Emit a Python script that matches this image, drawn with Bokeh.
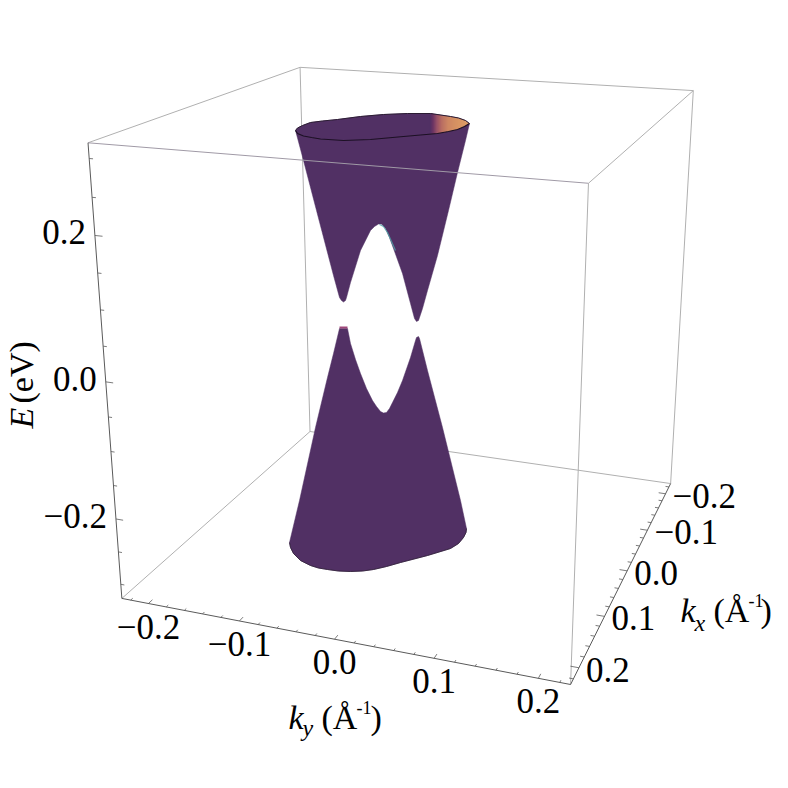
import numpy as np
from bokeh.plotting import figure
from bokeh.models import Range1d
from bokeh.core.properties import value
from bokeh.embed import file_html
from bokeh.resources import INLINE

# --- axes: values in the units of the chart
kx_limits = [-0.23, 0.23]
ky_limits = [-0.23, 0.23]
e_limits = [-0.322, 0.32]
kx_major = [-0.2, -0.1, 0.0, 0.1, 0.2]
ky_major = [-0.2, -0.1, 0.0, 0.1, 0.2]
e_major = [-0.2, 0.0, 0.2]
kx_minor = [-0.22, -0.18, -0.16, -0.14, -0.12, -0.08, -0.06, -0.04, -0.02,
            0.02, 0.04, 0.06, 0.08, 0.12, 0.14, 0.16, 0.18, 0.22]
ky_minor = list(kx_minor)
e_minor = [-0.3, -0.25, -0.15, -0.1, -0.05, 0.05, 0.1, 0.15, 0.25, 0.3]
kx_labels = ["\u22120.2", "\u22120.1", "0.0", "0.1", "0.2"]
ky_labels = ["\u22120.2", "\u22120.1", "0.0", "0.1", "0.2"]
e_labels = ["\u22120.2", "0.0", "0.2"]

# --- the box's corners as they appear in the picture: (kx sign, ky sign, E sign, px, py)
box_corner_signs = [(1, -1, 1), (-1, -1, 1), (-1, 1, 1), (1, 1, 1),
                    (1, -1, -1), (-1, -1, -1), (-1, 1, -1), (1, 1, -1)]
box_corner_px = [88, 299, 693, 588, 121, 310, 670, 570]
box_corner_py = [142, 67, 90, 183, 598, 431, 483, 684]

# --- silhouette of the surface
rim_back_x = [295, 297, 302, 310, 322, 337, 360, 383, 407, 430, 450, 458, 465, 469]
rim_back_y = [130, 127.5, 125, 122, 120.5, 119, 116, 114, 113, 113, 116, 117.5, 120, 123]
rim_front_x = [295, 297, 303, 311, 320, 343, 370, 403, 437, 448, 457, 464, 469]
rim_front_y = [130, 133, 135.5, 137, 138.5, 140, 139, 136, 133, 131, 129, 126, 123]
upper_side_x = [465, 457, 448, 437, 427, 422, 418, 416, 414,
                410, 402, 393, 389, 385, 381, 378, 374, 370, 360, 350, 346, 345, 343, 341, 339, 333, 316, 303]
upper_side_y = [140, 172, 210, 255, 290, 308, 320, 321, 318,
                303, 273, 248, 237, 228, 223.5, 223.5, 226, 230, 250, 282, 297, 300, 301.5, 300, 297, 275, 210, 160]
upper_x = rim_back_x + upper_side_x
upper_y = rim_back_y + upper_side_y
bottom_rim_x = [289, 290, 293, 300, 310, 318, 327, 338, 350, 362, 373, 386, 400, 427, 450, 458, 463, 465.5, 466]
bottom_rim_y = [542, 547, 553, 560, 565, 567.5, 569, 570.5, 571, 570.5, 569, 566, 562, 555, 548, 543, 537, 532, 528]
lower_x = [339, 347, 350, 355, 360, 366, 372, 376, 380, 383, 386, 389, 392, 397, 402, 410, 415, 416, 418, 419, 427, 442, 460] \
    + bottom_rim_x[::-1] + [299, 315, 327, 333]
lower_y = [328, 328, 343, 359, 373, 388, 400, 406, 411, 412.5, 412, 408, 402, 392, 380, 357, 340, 337, 336, 338, 370, 427, 500] \
    + bottom_rim_y[::-1] + [500, 427, 377, 353]
teal_x = [379, 383, 387, 391, 395]
teal_y = [224, 226, 232, 241, 250]
dot_x = [339, 347]
dot_y = [327, 327]

# --- colours over the rim's inside, from left to right
rim_stop_x = [429, 432, 436, 441, 447, 458, 469]
rim_stop_r = [81, 112, 165, 205, 228, 242, 246]
rim_stop_g = [48, 52, 88, 122, 150, 168, 178]
rim_stop_b = [100, 100, 104, 98, 98, 100, 104]

PURPLE = "#513064"
BOX = "#b0b0b0"
AXIS = "#5a5a5a"
TEXT = "#000000"
FONT = "Liberation Serif"
SIZE = "35px"
TITLE = "34px"


def fit_camera():
    rows = []
    for (sx, sy, sz), u, v in zip(box_corner_signs, box_corner_px, box_corner_py):
        P = [kx_limits[(sx + 1) // 2], ky_limits[(sy + 1) // 2], e_limits[(sz + 1) // 2], 1.0]
        rows.append(P + [0, 0, 0, 0] + [-u * c for c in P])
        rows.append([0, 0, 0, 0] + P + [-v * c for c in P])
    return np.linalg.svd(np.array(rows))[2][-1].reshape(3, 4)


CAM = fit_camera()


def proj(kx, ky, e):
    h = CAM @ np.array([kx, ky, e, 1.0])
    return h[0] / h[2], h[1] / h[2]


p = figure(width=772, height=772, x_range=Range1d(0, 772), y_range=Range1d(772, 0),
           x_axis_type=None, y_axis_type=None, toolbar_location=None,
           output_backend="svg", min_border=0, outline_line_color=None,
           background_fill_color="white", border_fill_color="white")
p.grid.visible = False


def corner(sx, sy, sz):
    return proj(kx_limits[(sx + 1) // 2], ky_limits[(sy + 1) // 2], e_limits[(sz + 1) // 2])


def edge(a, b, color=BOX, width=1.0, alpha=1.0):
    A, B = corner(*a), corner(*b)
    p.line([A[0], B[0]], [A[1], B[1]], line_color=color, line_width=width, line_alpha=alpha)


# back edges, behind the surface
edge((-1, -1, 1), (-1, -1, -1))
edge((-1, -1, -1), (1, -1, -1))
edge((-1, -1, -1), (-1, 1, -1))

# surface
p.patch(upper_x, upper_y, fill_color=PURPLE, line_color=PURPLE, line_width=0.5)
p.patch(lower_x, lower_y, fill_color=PURPLE, line_color=PURPLE, line_width=0.5)

# warm inside of the rim
for x0 in range(429, 469):
    xs = [x0, x0 + 1.2, x0 + 1.2, x0]
    ys = [np.interp(xs[0], rim_back_x, rim_back_y), np.interp(xs[1], rim_back_x, rim_back_y),
          np.interp(xs[2], rim_front_x, rim_front_y), np.interp(xs[3], rim_front_x, rim_front_y)]
    r = int(np.interp(x0, rim_stop_x, rim_stop_r))
    g = int(np.interp(x0, rim_stop_x, rim_stop_g))
    b = int(np.interp(x0, rim_stop_x, rim_stop_b))
    p.patch(xs, ys, fill_color=(r, g, b), line_color=None)

p.line(rim_back_x, rim_back_y, line_color="#2b1c33", line_width=1.0)
p.line(rim_front_x, rim_front_y, line_color="#1c1024", line_width=1.2)
p.line(bottom_rim_x, bottom_rim_y, line_color="#2b1c33", line_width=0.8)
p.line(teal_x, teal_y, line_color="#4fa3a8", line_width=1.2, line_alpha=0.8)
p.line(dot_x, dot_y, line_color="#a0487a", line_width=2.0)

# remaining box edges
edge((1, -1, 1), (-1, -1, 1))
edge((-1, -1, 1), (-1, 1, 1))
edge((-1, 1, 1), (1, 1, 1))
edge((1, 1, 1), (1, -1, 1), color="#a09aa6")
edge((-1, 1, 1), (-1, 1, -1))
edge((1, 1, 1), (1, 1, -1))

# axes
edge((1, -1, 1), (1, -1, -1), color=AXIS)
edge((1, -1, -1), (1, 1, -1), color=AXIS)
edge((1, 1, -1), (-1, 1, -1), color=AXIS)

KX, KY = kx_limits[1], ky_limits[0]
Ez = e_limits[0]


def tick(a, b, width=0.8):
    p.line([a[0], b[0]], [a[1], b[1]], line_color=AXIS, line_width=width)


for vals, L in ((ky_major, 0.008), (ky_minor, 0.004)):
    for v in vals:
        tick(proj(KX, v, Ez), proj(KX - L, v, Ez))
for vals, L in ((kx_major, 0.008), (kx_minor, 0.004)):
    for v in vals:
        tick(proj(v, ky_limits[1], Ez), proj(v, ky_limits[1] - L, Ez))
for vals, L in ((e_major, 0.008), (e_minor, 0.004)):
    for v in vals:
        tick(proj(KX, KY, v), proj(KX, KY + L, v))


def text(x, y, s, align="center", base="middle", size=SIZE, style="normal", angle=0):
    p.text([x], [y], text=[s], text_font=value(FONT), text_font_size=value(size),
           text_font_style=style, text_color=TEXT, text_align=align, text_baseline=base, angle=angle)


for v, s in zip(e_major, e_labels):
    x, y = proj(KX, KY, v)
    text(x - 9, y - 3, s, align="right")
for v, s in zip(ky_major, ky_labels):
    x, y = proj(KX, v, Ez)
    text(x, y + 23, s)
for v, s in zip(kx_major, kx_labels):
    x, y = proj(v, ky_limits[1], Ez)
    text(x + 7, y + 2, s, align="left")

# axis titles
text(21, 428, "E", align="left", base="alphabetic", style="italic", size=TITLE, angle=np.pi / 2)
text(21, 403, "(eV)", align="left", base="alphabetic", size=TITLE, angle=np.pi / 2)

text(288, 717, "k", align="left", base="alphabetic", style="italic", size=TITLE)
text(302, 727, "y", align="left", base="alphabetic", style="italic", size="24px")
text(321, 717, "(\u00c5", align="left", base="alphabetic", size=TITLE)
text(356, 707, "-1", align="left", base="alphabetic", size="18px")
text(370, 717, ")", align="left", base="alphabetic", size=TITLE)

text(680, 610, "k", align="left", base="alphabetic", style="italic", size=TITLE)
text(694, 622, "x", align="left", base="alphabetic", style="italic", size="24px")
text(713, 610, "(\u00c5", align="left", base="alphabetic", size=TITLE)
text(748, 600, "-1", align="left", base="alphabetic", size="18px")
text(760, 610, ")", align="left", base="alphabetic", size=TITLE)

open("out.html", "w").write(file_html(p, INLINE))
